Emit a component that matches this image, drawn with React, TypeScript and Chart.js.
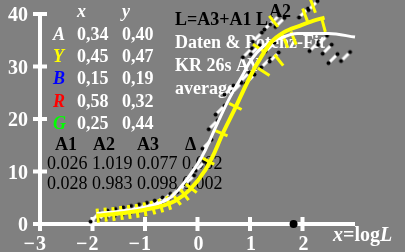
import React, { useEffect, useRef } from "react";
import { Chart, registerables } from "chart.js";
Chart.register(...registerables);

// ---- data ----
const whiteFitX = [-1.92, -1.5, -1.0, -0.52, -0.29, 0.0, 0.15, 0.34, 0.59, 0.85, 1.0, 1.26, 1.53, 1.9, 2.5, 3.0];
const whiteFitY = [2.0, 2.4, 3.2, 5.0, 7.4, 11.4, 14.1, 18.3, 23.6, 28.2, 30.9, 33.9, 35.2, 36.3, 36.3, 35.6];

const yellowFitX = [-1.92, -1.5, -1.0, -0.43, -0.14, 0.15, 0.3, 0.47, 0.72, 0.95, 1.14, 1.4, 1.64, 1.96, 2.2, 2.42];
const yellowFitY = [1.6, 2.0, 2.7, 4.4, 6.6, 10.3, 13.1, 17.0, 22.1, 27.0, 30.6, 34.6, 36.5, 37.8, 38.7, 39.3];

const dataX = [-1.95, -1.8, -1.65, -1.5, -1.35, -1.2, -1.05, -0.9, -0.75, -0.6, -0.45, -0.3, -0.15,
  0.05, 0.18, 0.3, 0.43, 0.6, 0.75, 0.9, 1.0,
  0.95, 1.1, 1.14, 1.3, 1.38, 1.36, 1.47, 1.46, 1.57, 2.02, 2.2, 2.22, 2.38, 2.47, 2.58, 2.82];
const dataY = [1.3, 1.7, 2.0, 2.3, 2.6, 2.9, 3.2, 3.6, 4.2, 4.9, 5.8, 6.9, 8.4,
  11.0, 15.2, 18.9, 21.7, 25.5, 26.0, 28.0, 27.6,
  32.6, 33.2, 35.6, 30.7, 33.7, 37.9, 38.9, 31.8, 38.4, 40.2, 41.6, 33.8, 35.0, 33.3, 31.5, 31.9];

const yellowDataX = [-1.9, -1.75, -1.6, -1.45, -1.3, -1.15, -1.0, -0.85, -0.7, -0.55, -0.4, -0.25, -0.12,
  0.2, 0.45, 0.72, 1.17, 1.26, 1.45, 1.55, 1.67, 1.83, 2.05, 2.2, 2.4];
const yellowDataY = [1.6, 1.8, 1.9, 2.1, 2.3, 2.5, 2.8, 3.1, 3.5, 4.0, 4.7, 5.6, 6.8,
  12.0, 17.3, 22.4, 33.5, 29.0, 38.6, 31.2, 34.8, 35.4, 39.8, 41.5, 37.9];

const markX = [1.83];
const markY = [0];

const xTicks = [-3, -2, -1, 0, 1, 2];
const yTicks = [0, 10, 20, 30, 40];

const tableHeader = ["x", "y"];
const tableLetters = ["A", "Y", "B", "R", "G"];
const tableXValues = ["0,34", "0,45", "0,15", "0,58", "0,25"];
const tableYValues = ["0,40", "0,47", "0,19", "0,32", "0,44"];
const coefHeaders = ["A1", "A2", "A3", "Δ"];
const coefRow1 = ["0.026", "1.019", "0.077", "0.002"];
const coefRow2 = ["0.028", "0.983", "0.098", "0.002"];
const titleMain = "L=A3+A1 L";
const titleExp = "A2";
const infoLines = ["Daten & Potenz-Fit", "KR 26s AY", "average"];

// ---- styles ----
const GRAY = "#808080";
const letterColors = ["#ffffff", "#ffff00", "#0000ff", "#ff0000", "#00ff00"];
const SERIF = '"Liberation Serif", "Times New Roman", serif';

function toPts(xs: number[], ys: number[]) {
  return xs.map((x, i) => ({ x, y: ys[i] }));
}

function makeMarker(): HTMLCanvasElement {
  const c = document.createElement("canvas");
  c.width = 16;
  c.height = 16;
  const g = c.getContext("2d")!;
  g.strokeStyle = "#ffffff";
  g.lineWidth = 3;
  g.beginPath();
  g.moveTo(5, 11);
  g.lineTo(11, 5);
  g.stroke();
  g.fillStyle = "#000000";
  g.beginPath();
  g.arc(3.5, 12.5, 2, 0, Math.PI * 2);
  g.fill();
  g.beginPath();
  g.arc(12.5, 3.5, 2, 0, Math.PI * 2);
  g.fill();
  return c;
}

const overlay = {
  id: "overlay",
  beforeDraw(chart: any) {
    const ctx = chart.ctx;
    ctx.save();
    ctx.fillStyle = GRAY;
    ctx.fillRect(0, 0, chart.width, chart.height);
    ctx.restore();
  },
  beforeDatasetsDraw(chart: any) {
    const ctx = chart.ctx as CanvasRenderingContext2D;
    const xs = chart.scales.x;
    const ys = chart.scales.y;
    const x0 = xs.getPixelForValue(-3);
    const xEnd = xs.getPixelForValue(3);
    const y0 = ys.getPixelForValue(0);
    const yTop = ys.getPixelForValue(40);
    ctx.save();
    ctx.fillStyle = "#ffffff";
    // axes
    ctx.fillRect(x0 - 2, yTop - 2, 4, y0 - yTop + 4);
    ctx.fillRect(x0 - 2, y0 - 2, xEnd - x0 + 2, 4);
    // y ticks
    ctx.font = `bold 20px ${SERIF}`;
    ctx.textBaseline = "alphabetic";
    for (const t of yTicks) {
      const py = ys.getPixelForValue(t);
      ctx.fillRect(x0 - 7, py - 2, 14, 4);
      ctx.textAlign = "right";
      ctx.fillText(String(t), x0 - 12, py + 7);
    }
    for (const t of xTicks) {
      const px = xs.getPixelForValue(t);
      ctx.fillRect(px - 2, y0 - 7, 4, 14);
      const digit = String(Math.abs(t));
      ctx.textAlign = "center";
      ctx.fillText(digit, px + 1, 250);
      if (t < 0) {
        ctx.textAlign = "right";
        ctx.fillText("\u2212", px - 5, 250);
      }
    }
    // x = log L
    let cx = 333;
    const by = 241;
    const parts: [string, string][] = [
      ["x", "italic bold"],
      ["=", "bold"],
      ["log", "bold"],
      ["L", "italic bold"],
    ];
    ctx.textAlign = "left";
    for (const [s, st] of parts) {
      ctx.font = `${st} 20px ${SERIF}`;
      ctx.fillText(s, cx, by);
      cx += ctx.measureText(s).width;
    }

    // left table
    ctx.font = `italic bold 18px ${SERIF}`;
    ctx.fillStyle = "#ffffff";
    ctx.fillText(tableHeader[0], 77, 17);
    ctx.fillText(tableHeader[1], 122, 17);
    for (let i = 0; i < tableLetters.length; i++) {
      const by2 = 40 + i * 22.2;
      ctx.font = `italic bold 18px ${SERIF}`;
      ctx.fillStyle = letterColors[i];
      ctx.fillText(tableLetters[i], 53, by2);
      ctx.font = `bold 18px ${SERIF}`;
      ctx.fillStyle = "#ffffff";
      ctx.fillText(tableXValues[i], 77, by2);
      ctx.fillText(tableYValues[i], 122, by2);
    }
    // coefficient table
    ctx.fillStyle = "#000000";
    ctx.font = `bold 18px ${SERIF}`;
    const hx = [55, 93, 137, 185];
    coefHeaders.forEach((h, i) => ctx.fillText(h, hx[i], 150));
    ctx.font = `18px ${SERIF}`;
    ctx.fillText(coefRow1.join(" "), 47, 169);
    ctx.fillText(coefRow2.join(" "), 47, 189);

    // title
    ctx.font = `bold 18px ${SERIF}`;
    ctx.fillStyle = "#000000";
    ctx.fillText(titleMain, 175, 25);
    const tw = ctx.measureText(titleMain).width;
    ctx.fillText(titleExp, 175 + tw + 1, 17);
    ctx.fillStyle = "#ffffff";
    infoLines.forEach((s, i) => ctx.fillText(s, 175, 48 + i * 23));
    ctx.restore();
  },
};

export default function App() {
  const ref = useRef<HTMLCanvasElement | null>(null);
  useEffect(() => {
    if (!ref.current) return;
    const marker = makeMarker();
    const rotationFromFit = (fx: number[], fy: number[]) => (c: any) => {
      const chart = c.chart;
      const xs = chart.scales?.x;
      const ys = chart.scales?.y;
      const raw = c.raw;
      if (!xs || !ys || !raw) return 90;
      let i = 0;
      while (i < fx.length - 2 && fx[i + 1] < raw.x) i++;
      const dx = xs.getPixelForValue(fx[i + 1]) - xs.getPixelForValue(fx[i]);
      const dy = ys.getPixelForValue(fy[i + 1]) - ys.getPixelForValue(fy[i]);
      return (Math.atan2(dy, dx) * 180) / Math.PI + 90;
    };
    const chart = new Chart(ref.current, {
      type: "scatter",
      data: {
        datasets: [
          {
            data: toPts(yellowFitX, yellowFitY),
            showLine: true,
            borderColor: "#ffff00",
            borderWidth: 4,
            pointRadius: 0,
            cubicInterpolationMode: "monotone",
            order: 0,
            clip: false,
          } as any,
          {
            data: toPts(whiteFitX, whiteFitY),
            showLine: true,
            borderColor: "#ffffff",
            borderWidth: 3,
            pointRadius: 0,
            cubicInterpolationMode: "monotone",
            order: 1,
            clip: false,
          } as any,
          {
            data: toPts(yellowDataX, yellowDataY),
            pointStyle: "line",
            pointRadius: 7,
            borderColor: "#ffff00",
            backgroundColor: "#ffff00",
            pointBorderWidth: 3,
            pointRotation: rotationFromFit(yellowFitX, yellowFitY),
            order: 2,
            clip: false,
          } as any,
          {
            data: toPts(dataX, dataY),
            pointStyle: marker,
            pointRadius: 8,
            order: 3,
            clip: false,
          } as any,
          {
            data: toPts(markX, markY),
            pointStyle: "circle",
            pointRadius: 4,
            backgroundColor: "#000000",
            borderColor: "#000000",
            borderWidth: 0,
            order: 0,
            clip: false,
          } as any,
        ],
      },
      options: {
        animation: false,
        responsive: false,
        devicePixelRatio: 1,
        events: [],
        layout: { padding: { left: 40, right: 50, top: 14, bottom: 28 } },
        plugins: { legend: { display: false }, tooltip: { enabled: false } },
        scales: {
          x: { type: "linear", min: -3, max: 3, display: false },
          y: { type: "linear", min: 0, max: 40, display: false },
        },
      },
      plugins: [overlay],
    });
    return () => chart.destroy();
  }, []);
  return (
    <div style={{ position: "fixed", left: 0, top: 0, width: 405, height: 252, background: GRAY }}>
      <canvas ref={ref} width={405} height={252} style={{ display: "block" }} />
    </div>
  );
}
